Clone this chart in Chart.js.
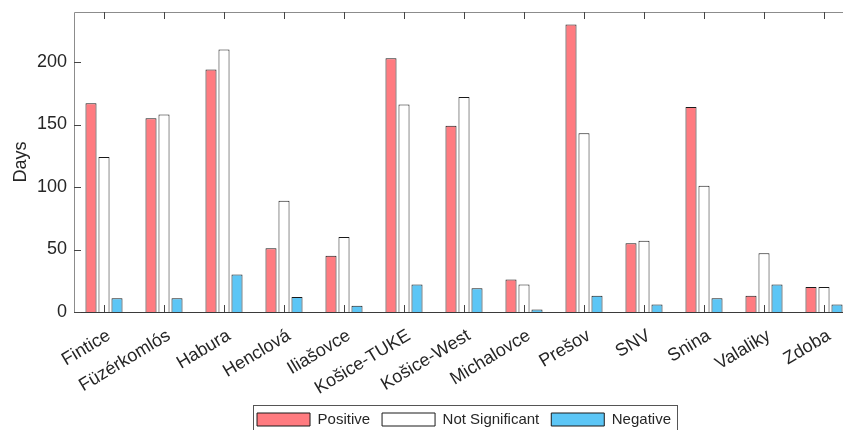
<!DOCTYPE html>
<html>
<head>
<meta charset="utf-8">
<script src="https://cdn.jsdelivr.net/npm/chart.js@4/dist/chart.umd.min.js"></script>
<style>
  html, body { margin: 0; padding: 0; background: #fff; }
  .wrap { width: 843px; height: 430px; overflow: hidden; position: relative; }
  canvas { display: block; }
</style>
</head>
<body>
<div class="wrap">
  <canvas id="chart" width="854" height="440"></canvas>
</div>
<script>
const sites = [`Fintice`, `Füzérkomlós`, `Habura`, `Henclová`, `Iliašovce`, `Košice-TUKE`, `Košice-West`, `Michalovce`, `Prešov`, `SNV`, `Snina`, `Valaliky`, `Zdoba`];

const positive = [167, 155, 194, 51, 45, 203, 149, 26, 230, 55, 164, 13, 20];
const notSignificant = [124, 158, 210, 89, 60, 166, 172, 22, 143, 57, 101, 47, 20];
const negative = [11, 11, 30, 12, 5, 22, 19, 2, 13, 6, 11, 22, 6];

const yTicks = [0, 50, 100, 150, 200];

const FONT = `"Liberation Sans", Arial, sans-serif`;
const TEXT_COLOR = `#262626`;

// MATLAB-like box: top/left lines and inward tick marks drawn over the bars
const axesBox = {
  id: `axesBox`,
  afterDatasetsDraw(chart) {
    const {ctx, chartArea, scales} = chart;
    const {left, right, top, bottom} = chartArea;
    ctx.save();
    ctx.lineWidth = 1;

    ctx.strokeStyle = `#8c8c8c`;
    ctx.beginPath();
    ctx.moveTo(left + 0.5, bottom);
    ctx.lineTo(left + 0.5, top + 0.5);
    ctx.lineTo(right, top + 0.5);
    ctx.stroke();

    ctx.strokeStyle = `#3a3a3a`;
    ctx.beginPath();
    ctx.moveTo(left, bottom + 0.5);
    ctx.lineTo(right, bottom + 0.5);
    ctx.stroke();

    ctx.strokeStyle = `#444`;
    ctx.beginPath();
    scales.x.ticks.forEach((tick, i) => {
      const px = Math.round(scales.x.getPixelForTick(i)) + 0.5;
      ctx.moveTo(px, bottom);
      ctx.lineTo(px, bottom - 7);
      ctx.moveTo(px, top);
      ctx.lineTo(px, top + 7);
    });
    yTicks.forEach((v) => {
      const py = Math.round(scales.y.getPixelForValue(v)) + 0.5;
      ctx.moveTo(left, py);
      ctx.lineTo(left + 7, py);
    });
    ctx.stroke();
    ctx.restore();
  }
};

// frame round the legend
const legendFrame = {
  id: `legendFrame`,
  afterDraw(chart) {
    const boxes = chart.legend && chart.legend.legendHitBoxes;
    if (!boxes || !boxes.length) {
      return;
    }
    const first = boxes[0];
    const last = boxes[boxes.length - 1];
    const x0 = Math.round(first.left) - 3.5;
    const x1 = Math.round(last.left + last.width) + 6.5;
    const y0 = Math.round(first.top) - 6.5;
    const y1 = Math.round(first.top + first.height) + 4.5;
    const {ctx} = chart;
    ctx.save();
    ctx.strokeStyle = `#555`;
    ctx.lineWidth = 1;
    ctx.strokeRect(x0, y0, x1 - x0, y1 - y0);
    ctx.restore();
  }
};

const makeSet = (label, data, color) => ({
  label,
  data,
  backgroundColor: color,
  borderColor: `#1a1a1a`,
  borderWidth: 1,
  categoryPercentage: 0.65,
  barPercentage: 0.85
});

new Chart(document.getElementById(`chart`), {
  type: `bar`,
  plugins: [axesBox, legendFrame],
  data: {
    labels: sites,
    datasets: [
      makeSet(`Positive`, positive, `#ff7b80`),
      makeSet(`Not Significant`, notSignificant, `#ffffff`),
      makeSet(`Negative`, negative, `#5cc6f6`)
    ]
  },
  options: {
    responsive: false,
    animation: false,
    devicePixelRatio: 1,
    layout: {padding: {top: 12, right: 0, bottom: 3, left: 0}},
    plugins: {
      tooltip: {enabled: false},
      legend: {
        position: `bottom`,
        fullSize: false,
        labels: {
          boxWidth: 53,
          boxHeight: 13,
          padding: 12,
          color: TEXT_COLOR,
          font: {family: FONT, size: 15}
        }
      }
    },
    scales: {
      x: {
        grid: {display: false, drawTicks: false},
        border: {display: false},
        afterFit: (scale) => {
          scale.height = 88;
          scale.paddingLeft = 0;
          scale.paddingRight = 0;
        },
        ticks: {
          autoSkip: false,
          minRotation: 31,
          maxRotation: 31,
          padding: 13,
          labelOffset: 5,
          color: TEXT_COLOR,
          font: {family: FONT, size: 18}
        }
      },
      y: {
        min: 0,
        max: 240,
        grid: {display: false, drawTicks: false},
        border: {display: false},
        afterFit: (scale) => {
          scale.width = 74;
          scale.paddingTop = 0;
          scale.paddingBottom = 0;
        },
        ticks: {
          stepSize: 50,
          includeBounds: false,
          padding: 7,
          color: TEXT_COLOR,
          font: {family: FONT, size: 18}
        },
        title: {
          display: true,
          text: `Days`,
          color: TEXT_COLOR,
          padding: {top: 10, bottom: 0},
          font: {family: FONT, size: 18}
        }
      }
    }
  }
});
</script>
</body>
</html>
